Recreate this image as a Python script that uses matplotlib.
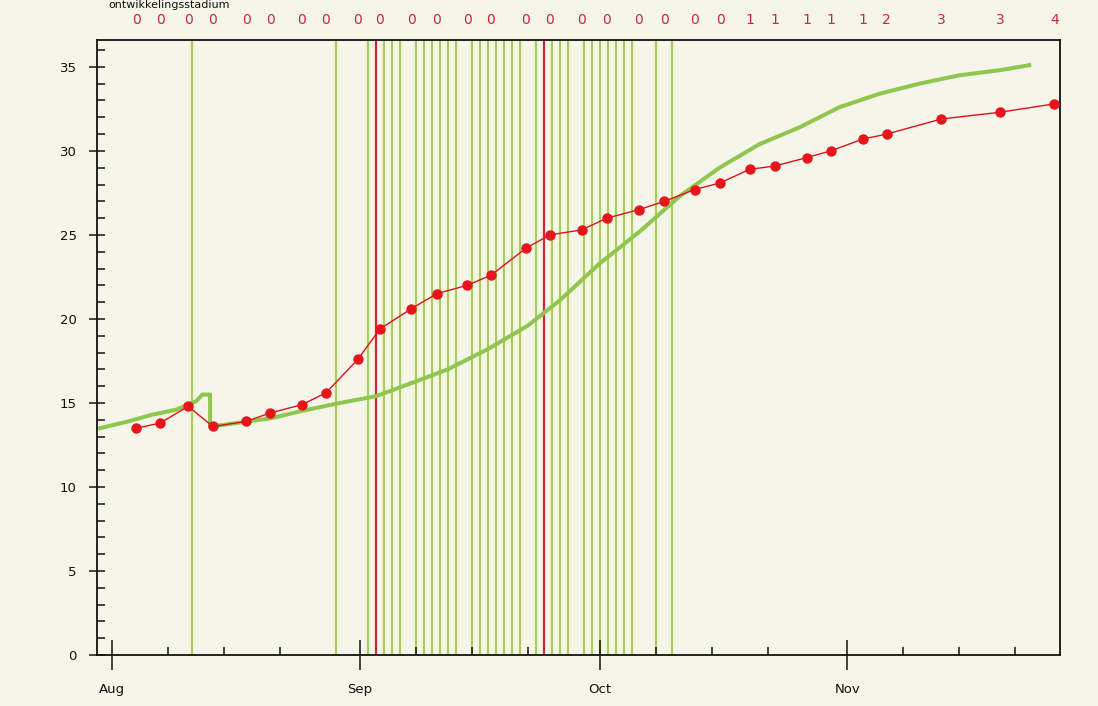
import matplotlib
matplotlib.use("Agg")
import matplotlib.pyplot as plt
from matplotlib.ticker import FixedLocator, MultipleLocator

# Day offsets counted from 1 August
month_labels = ["Aug", "Sep", "Oct", "Nov"]
month_days = [0, 31, 61, 92]
week_days = [7, 14, 21, 38, 45, 52, 68, 75, 82, 99, 106, 113]

# Measured series (red, with points)
obs_day = [3, 6, 9.5, 12.6, 16.75, 19.75, 23.75, 26.75, 30.75, 33.5, 37.4, 40.6,
           44.4, 47.4, 51.75, 54.75, 58.75, 61.9, 65.9, 69.1, 72.9, 76.1, 79.75,
           82.9, 86.9, 89.9, 93.9, 96.9, 103.75, 111.1, 117.9]
obs_val = [13.5, 13.8, 14.8, 13.6, 13.9, 14.4, 14.9, 15.6, 17.6, 19.4, 20.6, 21.5,
           22.0, 22.6, 24.2, 25.0, 25.3, 26.0, 26.5, 27.0, 27.7, 28.1, 28.9,
           29.1, 29.6, 30.0, 30.7, 31.0, 31.9, 32.3, 32.8]
stage_labels = ["0"] * 22 + ["1", "1", "1", "1", "1", "2", "3", "3", "4"]

# Model series (green curve)
model_day = [-1.5, 2, 5, 8, 10.5, 11.3, 12.25, 12.25, 14, 17, 20, 23.5, 28.5, 33,
             37, 42, 47, 52, 56, 61, 66, 71, 76, 81, 86, 91, 96, 101, 106, 111, 114.75]
model_val = [13.5, 13.9, 14.3, 14.6, 15.1, 15.5, 15.5, 13.6, 13.7, 13.9, 14.1, 14.5,
             15.0, 15.4, 16.1, 17.0, 18.2, 19.6, 21.1, 23.3, 25.2, 27.3, 29.0, 30.4,
             31.4, 32.6, 33.4, 34.0, 34.5, 34.8, 35.1]

# Event markers (vertical lines)
green_events = [10, 28, 32, 34, 35, 36, 38, 39, 40, 41, 42, 43, 45, 46, 47, 48, 49,
                50, 51, 53, 55, 56, 57, 59, 60, 61, 62, 63, 64, 65, 68, 70]
red_events = [33, 54]

BG = "#F5F5E9"
fig = plt.figure(figsize=(10.98, 7.06), dpi=100, facecolor=BG)
ax = fig.add_axes([97 / 1098, 51 / 706, (1060 - 97) / 1098, (655 - 40) / 706])
ax.set_facecolor(BG)

for d in green_events:
    ax.axvline(d, color="#F0F8C8", lw=3.2, zorder=1)
    ax.axvline(d, color="#98C058", lw=1.2, zorder=1.1)
for d in red_events:
    ax.axvline(d, color="#D02838", lw=1.6, zorder=1.2)

ax.plot(model_day, model_val, color="#8FC74E", lw=2.9, zorder=3,
        solid_joinstyle="round")
ax.plot(obs_day, obs_val, color="#E01018", lw=1.0, marker="o", ms=6.5,
        mec="#E8141C", mfc="#E8141C", zorder=4)

for d, s in zip(obs_day, stage_labels):
    ax.annotate(s, xy=(d, 1.0), xycoords=("data", "axes fraction"),
                xytext=(0, 14.4), textcoords="offset points",
                ha="center", va="center", color="#C8283A", fontsize=10,
                annotation_clip=False)

fig.text(108 / 1098, 1.0, "ontwikkelingsstadium", ha="left", va="top",
         fontsize=8, family="DejaVu Sans", color="#111111")

ax.set_xlim(-1.9, 118.6)
ax.set_ylim(0, 36.6)

ax.xaxis.set_major_locator(FixedLocator(month_days))
ax.set_xticklabels(month_labels)
ax.xaxis.set_minor_locator(FixedLocator(week_days))
ax.yaxis.set_major_locator(MultipleLocator(5))
ax.yaxis.set_minor_locator(MultipleLocator(1))

ax.tick_params(axis="x", which="major", direction="inout", length=22, width=1.1,
               labelsize=9.5, pad=9, colors="#111111")
ax.tick_params(axis="x", which="minor", direction="in", length=6, width=1.1,
               colors="#111111")
ax.tick_params(axis="y", which="major", direction="inout", length=11, width=1.1,
               labelsize=9.5, pad=9, colors="#111111")
ax.tick_params(axis="y", which="minor", direction="in", length=6, width=1.1,
               colors="#111111")

for sp in ax.spines.values():
    sp.set_linewidth(1.3)
    sp.set_color("#111111")

fig.savefig("out.png", dpi=100, facecolor=BG)
